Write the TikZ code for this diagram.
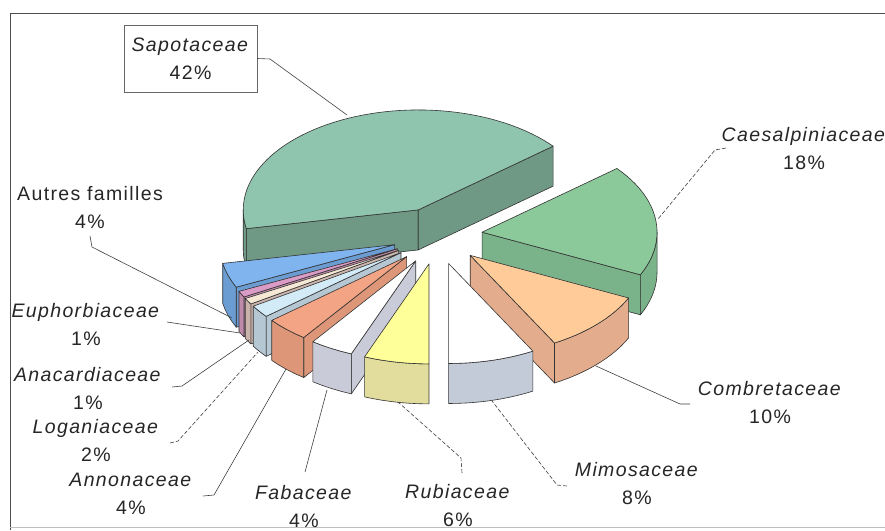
\documentclass[tikz,border=0pt]{standalone}
\usepackage{fontspec}
\setmainfont{Liberation Sans}[LetterSpace=7]
\definecolor{sapT}{HTML}{8FC4AE}\definecolor{sapS}{HTML}{6F9985}
\definecolor{caeT}{HTML}{8CC99A}\definecolor{caeS}{HTML}{7AB38A}
\definecolor{comT}{HTML}{FFCC99}\definecolor{comS}{HTML}{E3AC8C}
\definecolor{mimT}{HTML}{FFFFFF}\definecolor{mimS}{HTML}{C3CBD8}
\definecolor{rubT}{HTML}{FFFF99}\definecolor{rubS}{HTML}{E2DD9C}
\definecolor{fabT}{HTML}{FFFFFF}\definecolor{fabS}{HTML}{CACBD8}
\definecolor{annT}{HTML}{F3A484}\definecolor{annS}{HTML}{DE9678}
\definecolor{logT}{HTML}{D2EBF7}\definecolor{logS}{HTML}{B5C7D3}
\definecolor{anaT}{HTML}{F5E9D6}\definecolor{anaS}{HTML}{C9B3AA}
\definecolor{eupT}{HTML}{DA9CC6}\definecolor{eupS}{HTML}{BF8BAA}
\definecolor{autT}{HTML}{7FB4EE}\definecolor{autS}{HTML}{6B9DD2}
% #1 start angle, #2 end angle (clockwise), #3 top colour, #4 side colour,
% #5 #6 visible part of the outer rim
\newcommand{\pslice}[6]{%
  \pgfmathsetmacro{\slmid}{(#1+#2)/2}%
  \pgfmathsetmacro{\slax}{437.4+45*cos(\slmid)}%
  \pgfmathsetmacro{\slay}{235.8-28.6*sin(\slmid)}%
  \pgfmathsetmacro{\slbx}{\slax+175*cos(#1)}%
  \pgfmathsetmacro{\slby}{\slay-100*sin(#1)}%
  \pgfmathsetmacro{\slcx}{\slax+175*cos(#2)}%
  \pgfmathsetmacro{\slcy}{\slay-100*sin(#2)}%
  \pgfmathtruncatemacro{\slvA}{cos(#1)<-0.01}%
  \pgfmathtruncatemacro{\slvB}{cos(#2)>0.01}%
  \pgfmathtruncatemacro{\slns}{max(4,(#1-#2)/2.5)}%
  \pgfmathtruncatemacro{\slnf}{max(4,abs(#5-#6)/2.5)}%
  \ifnum\slvA=1
    \draw[face,fill=#4] (\slax,\slay) -- (\slbx,\slby) -- (\slbx,\slby+\slh) -- (\slax,\slay+\slh) -- cycle;
  \fi
  \ifnum\slvB=1
    \draw[face,fill=#4] (\slax,\slay) -- (\slcx,\slcy) -- (\slcx,\slcy+\slh) -- (\slax,\slay+\slh) -- cycle;
  \fi
  \draw[face,fill=#4] plot[variable=\t,domain=#5:#6,samples=\slnf] ({\slax+175*cos(\t)},{\slay-100*sin(\t)})
     -- plot[variable=\t,domain=#6:#5,samples=\slnf] ({\slax+175*cos(\t)},{\slay-100*sin(\t)+\slh}) -- cycle;
  \draw[face,fill=#3] (\slax,\slay) -- plot[variable=\t,domain=#1:#2,samples=\slns] ({\slax+175*cos(\t)},{\slay-100*sin(\t)}) -- cycle;
}
\def\slh{40}
\begin{document}
\begin{tikzpicture}[x=1pt,y=-1pt,
  face/.style={draw=black!80,line width=0.6pt,line join=round},
  lbl/.style={font=\fontsize{19.5}{28}\selectfont,text=black!85,align=center,inner sep=0pt},
  leader/.style={draw=black!75,line width=0.6pt},
  dleader/.style={leader,dash pattern=on 4pt off 2pt}]
\useasboundingbox (0,0) rectangle (885,530);
\fill[white] (0,0) rectangle (885,530);
\draw[black!70,line width=0.8pt] (885,13) -- (10,13) -- (10,530);
\draw[black!25,line width=0.8pt] (10,527) -- (885,527);

% slices, back to front
\pslice{190.8}{39.6}{sapT}{sapS}{190.8}{180}
\pslice{39.6}{-25.2}{caeT}{caeS}{0}{-25.2}
\pslice{-154.8}{-169.2}{autT}{autS}{-154.8}{-169.2}
\pslice{-151.2}{-154.8}{eupT}{eupS}{-151.2}{-154.8}
\pslice{-147.6}{-151.2}{anaT}{anaS}{-147.6}{-151.2}
\pslice{-140.4}{-147.6}{logT}{logS}{-140.4}{-147.6}
\pslice{-25.2}{-61.2}{comT}{comS}{-25.2}{-61.2}
\pslice{-126}{-140.4}{annT}{annS}{-126}{-140.4}
\pslice{-111.6}{-126}{fabT}{fabS}{-111.6}{-126}
\pslice{-61.2}{-90}{mimT}{mimS}{-61.2}{-90}
\pslice{-90}{-111.6}{rubT}{rubS}{-90}{-111.6}

% labels
\node[lbl,draw=black!60,line width=0.8pt,minimum width=133pt,minimum height=67pt] (sap) at (190.5,58.5) {\textit{Sapotaceae}\\42\%};
\node[lbl] (cae) at (804,149) {\textit{Caesalpiniaceae}\\18\%};
\node[lbl] (com) at (770,403) {\textit{Combretaceae}\\10\%};
\node[lbl] (mim) at (637,484) {\textit{Mimosaceae}\\8\%};
\node[lbl] (rub) at (458,506) {\textit{Rubiaceae}\\6\%};
\node[lbl] (fab) at (304,506) {\textit{Fabaceae}\\4\%};
\node[lbl] (ann) at (131,494) {\textit{Annonaceae}\\4\%};
\node[lbl] (log) at (96,440) {\textit{Loganiaceae}\\2\%};
\node[lbl] (ana) at (88,388) {\textit{Anacardiaceae}\\1\%};
\node[lbl] (eup) at (86,324) {\textit{Euphorbiaceae}\\1\%};
\node[lbl] (aut) at (90,207) {Autres familles\\4\%};

% leader lines
\coordinate (sapP) at (347,115);
\draw[leader] (sap.east) -- (270,59) -- (sapP);
\coordinate (caeS) at (726,148); \coordinate (caeP) at (658,219);
\draw[dleader] (caeS) -- (715,150) -- (caeP);
\coordinate (comS) at (690,404); \coordinate (comP) at (596,366);
\draw[leader] (comS) -- (680,404) -- (comP);
\coordinate (mimS) at (567,486); \coordinate (mimP) at (492,401);
\draw[dleader] (mimS) -- (557,485) -- (mimP);
\coordinate (rubS) at (462,473); \coordinate (rubP) at (398,402);
\draw[dleader] (rubS) -- (461,458) -- (rubP);
\coordinate (fabS) at (305,472); \coordinate (fabP) at (327,390);
\draw[leader] (fabS) -- (fabP);
\coordinate (annS) at (203,496); \coordinate (annP) at (286,369);
\draw[leader] (annS) -- (214,495) -- (annP);
\coordinate (logS) at (170,443); \coordinate (logP) at (258,352);
\draw[dleader] (logS) -- (178,441) -- (logP);
\coordinate (anaS) at (172,387); \coordinate (anaP) at (249,340);
\draw[leader] (anaS) -- (182,386) -- (anaP);
\coordinate (eupS) at (167,322); \coordinate (eupP) at (240,333);
\draw[leader] (eupS) -- (eupP);
\coordinate (autS) at (90,236); \coordinate (autP) at (232,318);
\draw[leader] (autS) -- (92,247) -- (autP);
\end{tikzpicture}
\end{document}
